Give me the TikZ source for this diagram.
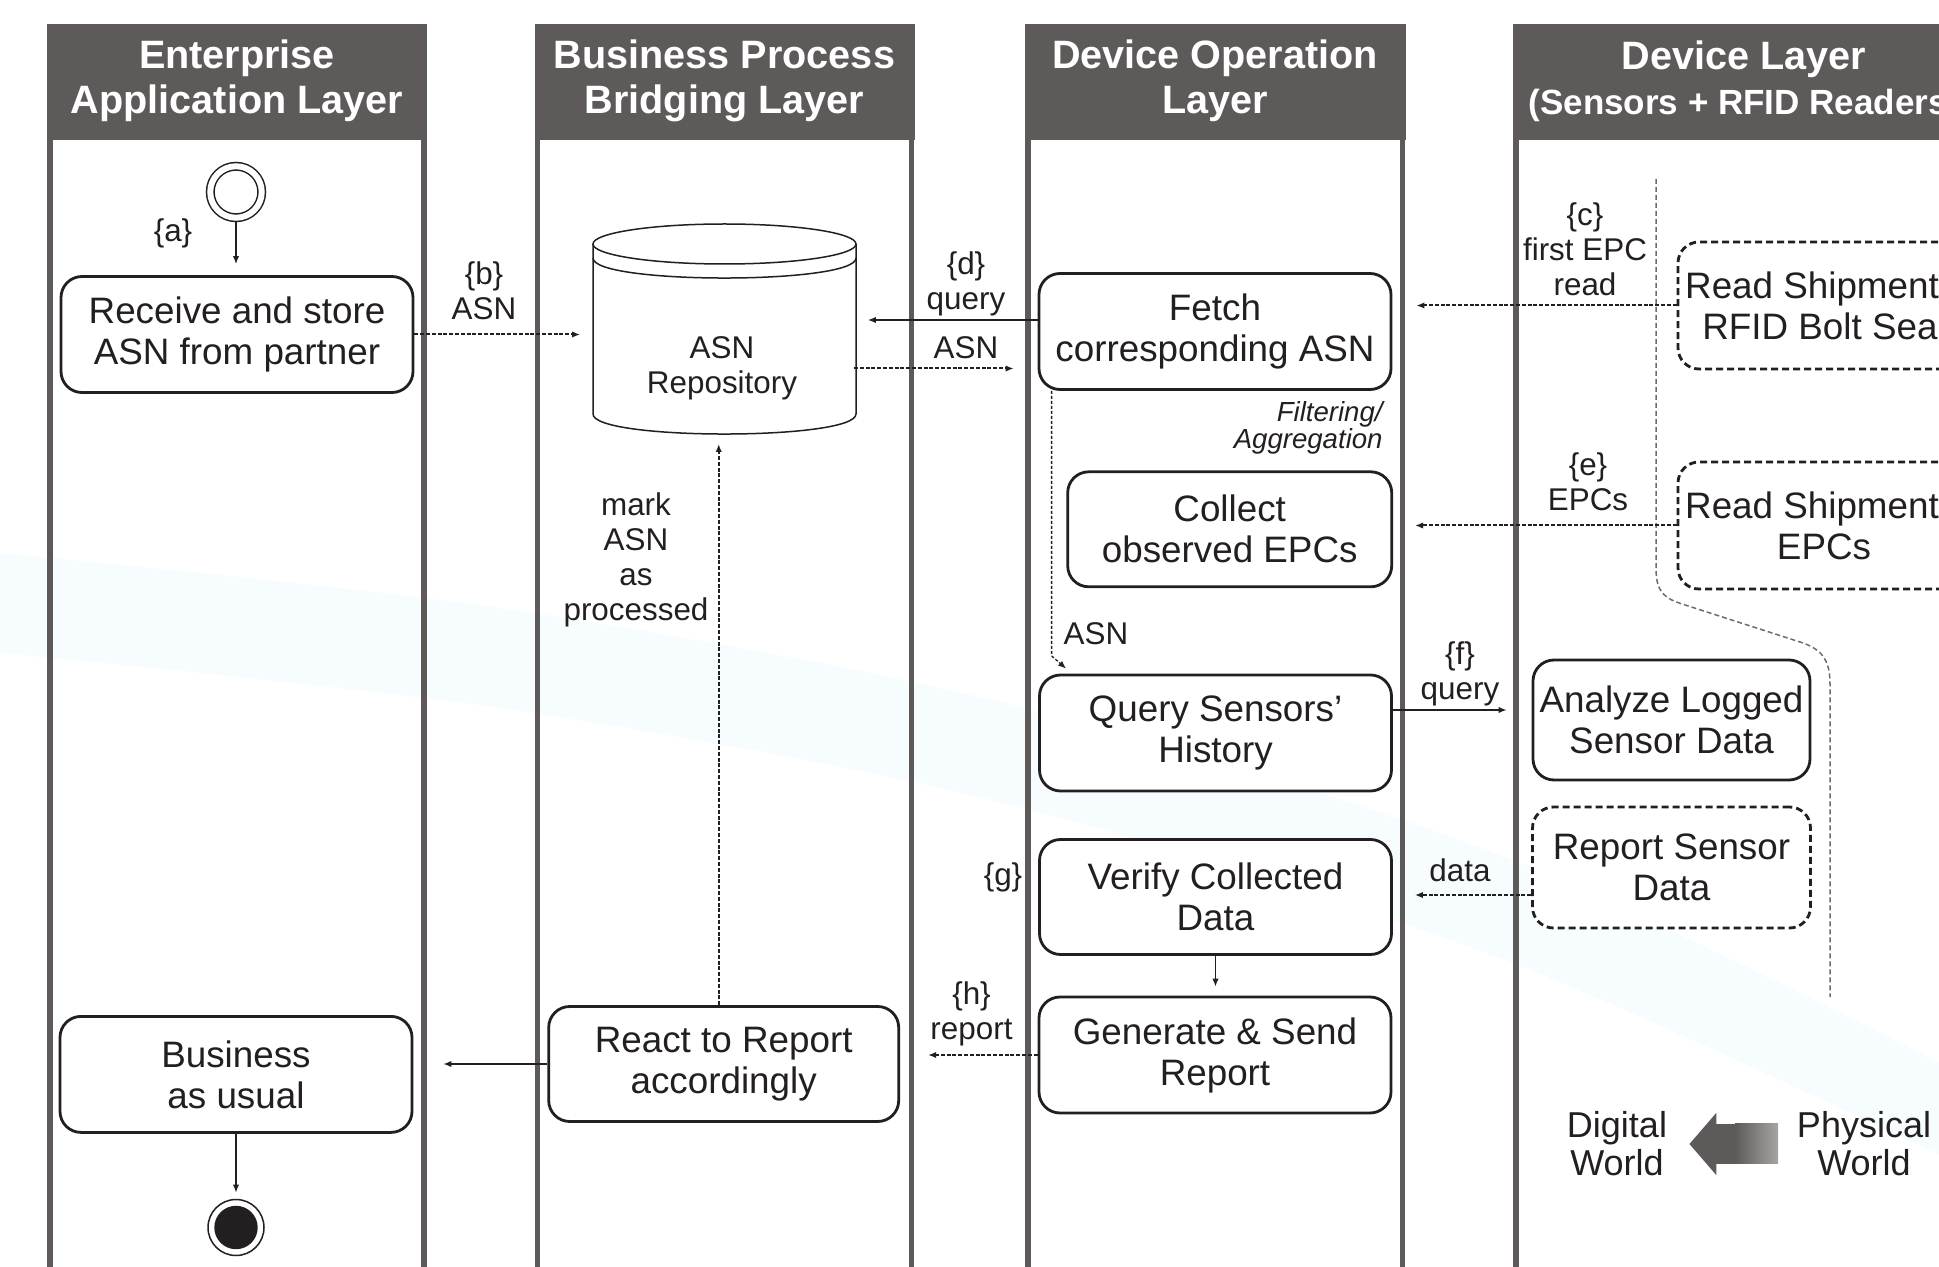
\documentclass[tikz,border=0pt]{standalone}
\usepackage{fontspec}
\setmainfont{Liberation Sans}
\usetikzlibrary{arrows.meta}

\definecolor{lanegrey}{RGB}{94,90,89}
\definecolor{ink}{RGB}{35,31,32}
\definecolor{haze}{RGB}{247,253,255}

\newcommand{\actfont}{\fontsize{18.4}{20.5}\selectfont}
\newcommand{\tagfont}{\fontsize{15.7}{17.5}\selectfont}
\newcommand{\headfont}{\bfseries\fontsize{19.8}{22.5}\selectfont}
\newcommand{\worldfont}{\fontsize{18}{19}\selectfont}

\tikzset{
  act/.style={draw=ink, fill=white, line width=1.4pt, rounded corners=10.5pt,
    align=center, text=ink, font=\actfont, inner sep=0pt,
    minimum width=176pt, minimum height=58pt},
  devact/.style={act, dash pattern=on 3.5pt off 2pt,
    minimum width=146pt, minimum height=63.5pt},
  tag/.style={align=center, text=ink, font=\tagfont, inner sep=0pt},
  head/.style={align=center, text=white, font=\headfont, inner sep=0pt},
  lane/.style={draw=lanegrey, line width=2.75pt},
  flow/.style={draw=ink, line width=0.7pt, ->},
  msg/.style={draw=ink, line width=1pt, ->, dash pattern=on 2pt off 0.9pt},
  asnline/.style={draw=ink, line width=0.65pt, ->, dash pattern=on 1.5pt off 1pt},
}

\begin{document}
\begin{tikzpicture}[x=0.5pt, y=-0.5pt, >={Latex[length=4pt,width=3.2pt]}]
\useasboundingbox (0,0) rectangle (1939,1267);
\fill [white] (0,0) rectangle (1939,1267);
\fill [haze] plot [smooth] coordinates {(-10,552) (500,608) (1000,702) (1500,855) (1950,1068)}
  -- plot [smooth] coordinates {(1950,1160) (1500,958) (1000,802) (500,708) (-10,652)} -- cycle;

\fill [lanegrey] (47,24) rectangle (427,140);
\fill [lanegrey] (534.5,24) rectangle (914.5,140);
\fill [lanegrey] (1025,24) rectangle (1405.5,140);
\fill [lanegrey] (1513,24) rectangle (1960,140);
\draw [lane] (50,140) -- (50,1280);
\draw [lane] (424,140) -- (424,1280);
\draw [lane] (537.5,140) -- (537.5,1280);
\draw [lane] (911.5,140) -- (911.5,1280);
\draw [lane] (1028,140) -- (1028,1280);
\draw [lane] (1402.5,140) -- (1402.5,1280);
\draw [lane] (1516,140) -- (1516,1280);
\node [head] (hd1) at (237,81) {Enterprise\\Application Layer};
\node [head] (hd2) at (724.5,81) {Business Process\\Bridging Layer};
\node [head] (hd3) at (1215,81) {Device Operation\\Layer};
\node [head] (hd4) at (1744,81) {Device Layer\\{\fontsize{17.5}{22.5}\selectfont(Sensors + RFID Readers)}};

\draw [lanegrey!90, line width=0.75pt, dash pattern=on 2.5pt off 1.5pt] (1656,179) -- (1656,568)
  .. controls (1656,592) and (1664,598) .. (1682,604) -- (1800,642)
  .. controls (1822,649) and (1830,660) .. (1830,684) -- (1830,997);

\node [circle, draw=ink, line width=0.75pt, double=white, double distance=3pt,
  minimum size=25.75pt, inner sep=0pt, outer sep=0pt] (start) at (236,192) {};
\node [tag] (taga) at (173,233) {\{a\}};
\node [act] (recv) at (237,334.5) {Receive and store\\ASN from partner};
\draw [flow, shorten <=1.9pt, shorten >=5.5pt] (start.south) -- (start.south |- recv.north);

\draw [ink, line width=0.75pt, fill=white] (593,244) -- (593,414)
  .. controls (593,440.7) and (856,440.7) .. (856,414) -- (856,244);
\draw [ink, line width=0.75pt, fill=white] (724.5,244) ellipse [x radius=131.5, y radius=20];
\draw [ink, line width=0.75pt] (593,258) .. controls (593,284.7) and (856,284.7) .. (856,258);
\coordinate (repobot) at (724.5,434);
\node [tag, minimum width=131.5pt] (repo) at (722,368.5) {ASN\\Repository};

\node [tag] (tagb) at (484,290.5) {\{b\}\\ASN};
\draw [msg, shorten >=5pt] (recv.east) -- (recv.east -| repo.west);

\node [act] (fetch) at (1215,331.5) {Fetch\\corresponding ASN};
\node [tag] (tagd) at (966,283.5) {\{d\}\\query};
\node [tag] (tagasn) at (966,348) {ASN};
\coordinate (fq) at ([yshift=5.75pt]fetch.west);
\draw [flow, shorten >=7pt] (fq) -- (fq -| repo.east);
\draw [msg, shorten >=12pt] (repo.east) -- (repo.east -| fetch.west);

\node [devact] (rfid) at (1824,305.5) {Read Shipment\hspace*{12pt}\\RFID Bolt Seal};
\node [devact] (epcs) at (1824,525.5) {Read Shipment\hspace*{12pt}\\EPCs};
\node [tag] (tagc) at (1585,249) {\{c\}\\first EPC\\read};
\node [tag] (tage) at (1588,482) {\{e\}\\EPCs};

\node [act, minimum width=162pt, minimum height=57.5pt] (collect) at (1229.7,529.3) {Collect\\observed EPCs};
\node [font=\itshape\fontsize{13.8}{11}\selectfont, align=right, anchor=east, text=ink, inner sep=0pt] (filt) at (1383,428) {Filtering/\\Aggregation};
\draw [msg, shorten >=12pt] (rfid.west) -- (rfid.west -| fetch.east);
\draw [msg, shorten >=11pt] (epcs.west) -- (epcs.west -| collect.east);

\node [act] (query) at (1215.5,733) {Query Sensors'\\History};
\draw [asnline] ([xshift=7pt]fetch.south west) -- ++(0,265) -- ([xshift=14pt,yshift=2.5pt]query.north west);
\node [tag] (tagasn2) at (1096,634) {ASN};

\node [act, minimum width=138.5pt, minimum height=60pt] (analyze) at (1671.5,720) {Analyze Logged\\Sensor Data};
\node [tag] (tagf) at (1460,674) {\{f\}\\query};
\coordinate (qa) at ([yshift=11.5pt]query.east);
\draw [flow, shorten >=12.5pt] (qa) -- (qa -| analyze.west);

\node [devact, minimum width=139pt, minimum height=60.5pt] (report) at (1671.5,867.5) {Report Sensor\\Data};
\node [act, minimum height=57.5pt] (verify) at (1215.5,897) {Verify Collected\\Data};
\node [tag] (tagdata) at (1460,870.5) {data};
\coordinate (rv) at ([yshift=-13.75pt]report.west);
\draw [msg, shorten >=11pt] (rv) -- (rv -| verify.east);
\node [tag] (tagg) at (1003,877) {\{g\}};

\node [act] (generate) at (1215,1055) {Generate \& Send\\Report};
\draw [flow, shorten >=4.5pt] (verify.south) -- (verify.south |- generate.north);
\node [tag] (tagh) at (971.5,1014) {\{h\}\\report};

\node [act, minimum width=175pt, minimum height=57.5pt] (react) at (723.7,1064) {React to Report\\accordingly};
\draw [msg, shorten >=14pt] (generate.west) -- (generate.west -| react.east);
\draw [msg, shorten >=5pt] ([xshift=-2.5pt]react.north) -- ([xshift=-2.5pt]react.north |- repobot);
\node [tag] (tagmark) at (636,559.6) {mark\\ASN\\as\\processed};

\node [act] (business) at (236,1074.4) {Business\\as usual};
\draw [flow, shorten >=15pt] (react.west) -- (react.west -| business.east);
\node [circle, fill=ink, inner sep=0pt, minimum size=21.7pt] (fin) at (236,1227.5) {};
\draw [ink, line width=0.75pt] (fin) circle [radius=14pt];
\draw [flow, shorten >=6.4pt] (business.south) -- (fin.north);

\node [text=ink, align=center, font=\worldfont, inner sep=0pt] (digital) at (1617,1144) {Digital\\World};
\node [text=ink, align=center, font=\worldfont, inner sep=0pt] (physical) at (1864,1144) {Physical\\World};
\draw [lanegrey, line width=20pt, -{Triangle[length=13.5pt,width=30.5pt]},
  shorten <=9.5pt, shorten >=11pt] (physical.west) -- (digital.east);
\shade [left color=lanegrey, right color=lanegrey!55!white] (1735,1123) rectangle (1778,1163);
\end{tikzpicture}
\end{document}
